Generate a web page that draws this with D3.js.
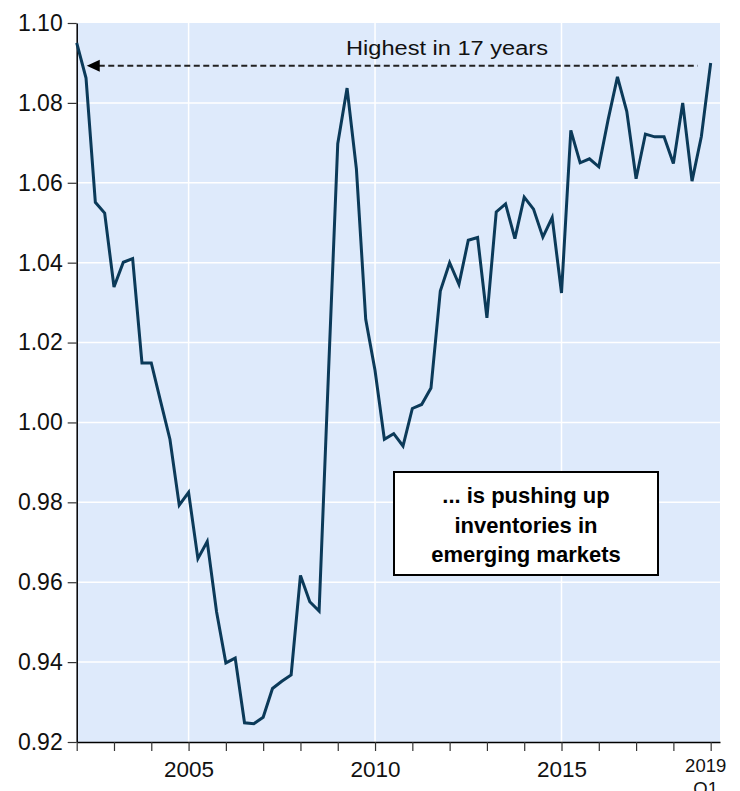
<!DOCTYPE html>
<html>
<head>
<meta charset="utf-8">
<script src="https://cdn.jsdelivr.net/npm/d3@7"></script>
<style>
  body { margin: 0; background: #fff; }
  svg text { font-family: "Liberation Sans", Arial, sans-serif; }
</style>
</head>
<body>
<div id="chart-area"></div>
<script>
// Data -------------------------------------------------
// quarterly series, 2002 Q1 .. 2019 Q1
const startYear = 2002
const values = [
  1.0950, 1.0862, 1.0551, 1.0524, 1.0339, 1.0401, 1.0410, 1.0149,
  1.0149, 1.0053, 0.9958, 0.9793, 0.9825, 0.9659, 0.9702, 0.9526,
  0.9398, 0.9410, 0.9248, 0.9246, 0.9262, 0.9334, 0.9352, 0.9368,
  0.9617, 0.9551, 0.9528, 1.0120, 1.0698, 1.0837, 1.0635, 1.0258,
  1.0130, 0.9958, 0.9972, 0.9941, 1.0035, 1.0045, 1.0086, 1.0329,
  1.0400, 1.0346, 1.0456, 1.0463, 1.0262, 1.0527, 1.0547, 1.0460,
  1.0564, 1.0534, 1.0464, 1.0513, 1.0324, 1.0731, 1.0650, 1.0660,
  1.0640, 1.0758, 1.0865, 1.0779, 1.0610, 1.0722, 1.0715, 1.0715,
  1.0648, 1.0800, 1.0604, 1.0716, 1.0900
]
const yTicks = [0.92, 0.94, 0.96, 0.98, 1.00, 1.02, 1.04, 1.06, 1.08, 1.10]
const xTicks = d3.range(2002, 2020)
const xLabels = [2005, 2010, 2015]
const lastLabel = ["2019", "Q1"]
const arrowNote = "Highest in 17 years"
const arrowLevel = 1.0893
const arrowFrom = 2002.27, arrowTo = 2018.65
const boxLines = ["... is pushing up", "inventories in", "emerging markets"]

// Canvas setup -----------------------------------------
const WIDTH = 740, HEIGHT = 791
const PLOT = {LEFT: 76.7, RIGHT: 720, TOP: 23, BOTTOM: 742}

const svg = d3.select("#chart-area").append("svg")
  .attr("width", WIDTH)
  .attr("height", HEIGHT)

const x = d3.scaleLinear()
  .domain([2002, 2019.25])
  .range([PLOT.LEFT, PLOT.RIGHT])

const y = d3.scaleLinear()
  .domain([0.92, 1.10])
  .range([PLOT.BOTTOM, PLOT.TOP])

const series = values.map((v, i) => ({date: startYear + i / 4, value: v}))

// background + grid
svg.append("rect")
  .attr("x", PLOT.LEFT)
  .attr("y", PLOT.TOP)
  .attr("width", PLOT.RIGHT - PLOT.LEFT)
  .attr("height", PLOT.BOTTOM - PLOT.TOP)
  .attr("fill", "#deeafb")

svg.append("g").selectAll("line")
  .data(yTicks.slice(1, -1))
  .enter().append("line")
  .attr("x1", PLOT.LEFT).attr("x2", PLOT.RIGHT)
  .attr("y1", d => y(d)).attr("y2", d => y(d))
  .attr("stroke", "#fff")
  .attr("stroke-width", 1.5)

svg.append("g").selectAll("line")
  .data(xLabels)
  .enter().append("line")
  .attr("x1", d => x(d)).attr("x2", d => x(d))
  .attr("y1", PLOT.TOP).attr("y2", PLOT.BOTTOM)
  .attr("stroke", "#fff")
  .attr("stroke-width", 1.5)

// Axes -------------------------------------------------
const yAxis = d3.axisLeft(y)
  .tickValues(yTicks)
  .tickFormat(d3.format(".2f"))
  .tickSize(9)
  .tickSizeOuter(0)
  .tickPadding(5)

const yG = svg.append("g")
  .attr("transform", `translate(${PLOT.LEFT},0)`)
  .call(yAxis)
yG.select(".domain").attr("stroke", "#000").attr("stroke-width", 1.5)
yG.selectAll(".tick line").attr("stroke", "#333").attr("stroke-width", 1.2)
yG.selectAll(".tick text")
  .attr("font-size", "23px")
  .attr("fill", "#111")

const xAxis = d3.axisBottom(x)
  .tickValues(xTicks)
  .tickFormat(d => xLabels.includes(d) ? d : "")
  .tickSize(9)
  .tickSizeOuter(0)
  .tickPadding(10)

const xG = svg.append("g")
  .attr("transform", `translate(0,${PLOT.BOTTOM})`)
  .call(xAxis)
xG.select(".domain").attr("stroke", "#000").attr("stroke-width", 1.5)
xG.selectAll(".tick line").attr("stroke", "#333").attr("stroke-width", 1.2)
xG.selectAll(".tick text")
  .attr("font-size", "22.5px")
  .attr("fill", "#111")

// 2019 Q1 label, two lines, smaller (second line runs off the bottom as in the original)
const last = svg.append("text")
  .attr("x", x(2019) - 5)
  .attr("y", 772)
  .attr("text-anchor", "middle")
  .attr("font-size", "18.5px")
  .attr("fill", "#111")
last.selectAll("tspan")
  .data(lastLabel)
  .enter().append("tspan")
  .attr("x", x(2019) - 5)
  .attr("dy", (d, i) => i == 0 ? 0 : 23)
  .text(d => d)

// Series line ------------------------------------------
const line = d3.line()
  .x(d => x(d.date))
  .y(d => y(d.value))

svg.append("path")
  .datum(series)
  .attr("d", line)
  .attr("fill", "none")
  .attr("stroke", "#0b3a59")
  .attr("stroke-width", 3)
  .attr("stroke-linejoin", "miter")

// Arrow annotation -------------------------------------
const ay = y(arrowLevel)
const tipX = x(arrowFrom)
svg.append("line")
  .attr("x1", tipX + 12).attr("x2", x(arrowTo))
  .attr("y1", ay).attr("y2", ay)
  .attr("stroke", "#222")
  .attr("stroke-width", 1.8)
  .attr("stroke-dasharray", "6,3.5")

svg.append("path")
  .attr("d", `M${tipX},${ay} L${tipX + 13},${ay - 6} L${tipX + 13},${ay + 6} Z`)
  .attr("fill", "#000")

svg.append("text")
  .attr("x", 346)
  .attr("y", 55)
  .attr("font-size", "20px")
  .attr("fill", "#111")
  .attr("textLength", 202)
  .attr("lengthAdjust", "spacingAndGlyphs")
  .text(arrowNote)

// Text box ---------------------------------------------
const box = {x: 394, y: 472, w: 264, h: 103}
svg.append("rect")
  .attr("x", box.x).attr("y", box.y)
  .attr("width", box.w).attr("height", box.h)
  .attr("fill", "#fff")
  .attr("stroke", "#000")
  .attr("stroke-width", 2)

svg.append("g").selectAll("text")
  .data(boxLines)
  .enter().append("text")
  .attr("x", box.x + box.w / 2)
  .attr("y", (d, i) => 503 + i * 29.5)
  .attr("text-anchor", "middle")
  .attr("font-size", "22px")
  .attr("font-weight", "bold")
  .attr("fill", "#000")
  .text(d => d)
</script>
</body>
</html>
